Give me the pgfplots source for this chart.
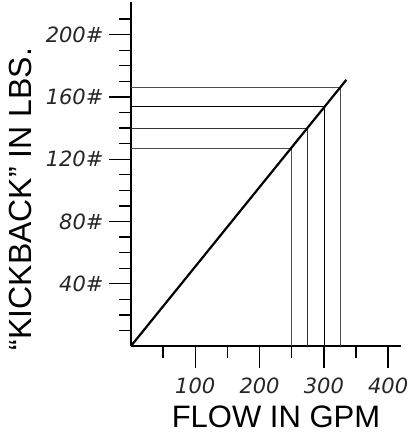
\documentclass[border=0pt]{standalone}
\usepackage{pgfplots}
\pgfplotsset{compat=1.18}
\usepackage{fontspec}
\setmainfont{Liberation Sans}
\newfontfamily\tickfont{DejaVu Sans}
\begin{document}
\begin{tikzpicture}
\path[use as bounding box] (-131pt,-97pt) rectangle (282pt,346pt);
\begin{axis}[
    at={(0,0)}, anchor=south west,
    scale only axis, width=270pt, height=344pt,
    xmin=0, xmax=420, ymin=0, ymax=221,
    axis lines=left, axis line style={-, line width=1.5pt},
    tick align=outside,
    xtick={100,200,300,400}, minor xtick={50,150,250,350},
    ytick={40,80,120,160,200}, yticklabels={40\#,80\#,120\#,160\#,200\#},
    minor ytick={10,20,30,50,60,70,90,100,110,130,140,150,170,180,190,210},
    major tick length=22pt, minor tick length=12pt,
    every tick/.style={black, line width=1.3pt},
    /pgf/number format/assume math mode=true,
    ticklabel style={font=\tickfont\fontsize{21}{24}\selectfont\itshape, text=black!85},
    xticklabel style={yshift=-6pt},
    yticklabel style={xshift=-2pt},
    xlabel={FLOW IN GPM},
    xlabel style={at={(axis description cs:0.537,-0.206)}, anchor=center, font=\fontsize{31}{36}\selectfont},
    ylabel={“KICKBACK” IN LBS.},
    ylabel style={at={(axis description cs:-0.411,0.427)}, anchor=center, font=\fontsize{32}{36}\selectfont},
    clip=false,
]
\addplot[black!70, line width=0.7pt] coordinates {(0,166) (325,166) (325,0)};
\addplot[black, line width=0.7pt] coordinates {(0,154) (300,154) (300,0)};
\addplot[black!80, line width=0.7pt] coordinates {(0,140) (275,140) (275,0)};
\addplot[black!70, line width=0.7pt] coordinates {(0,127) (250,127) (250,0)};
\addplot[black, line width=2.2pt] coordinates {(0,0) (335,171)};
\end{axis}
\end{tikzpicture}
\end{document}
